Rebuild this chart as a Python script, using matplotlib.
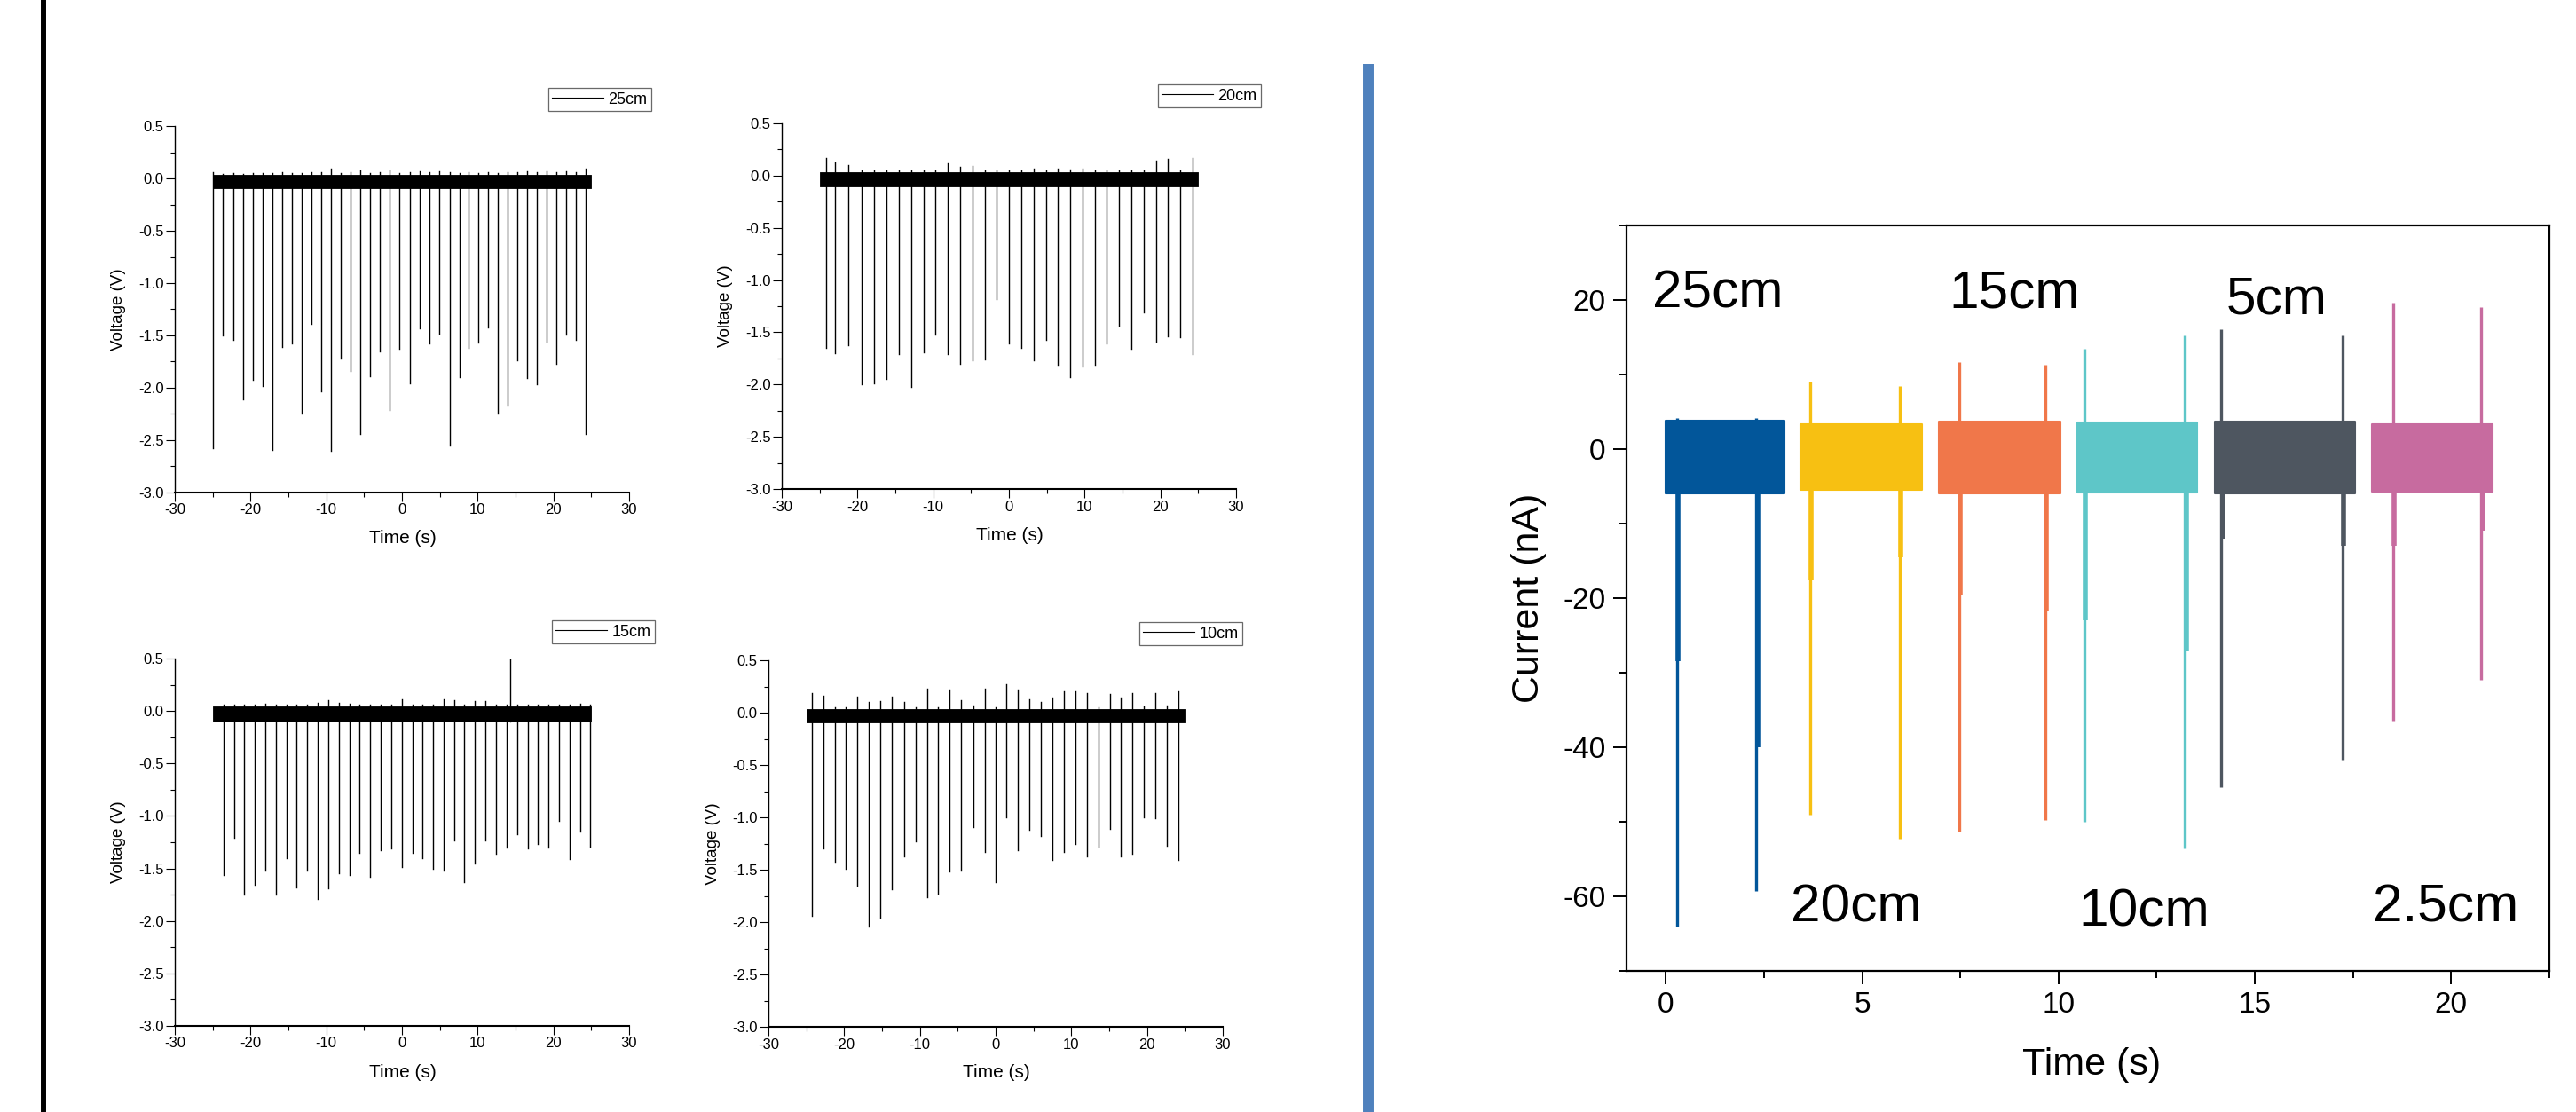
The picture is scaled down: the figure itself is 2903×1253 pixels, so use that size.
import numpy as np
import matplotlib
matplotlib.use('Agg')
import matplotlib.pyplot as plt
from matplotlib.ticker import MultipleLocator

plt.rcParams['font.family'] = ['Liberation Sans', 'DejaVu Sans']
plt.rcParams['axes.unicode_minus'] = False

# ---------------- data: small voltage panels ----------------
band_range = [-25.0, 25.0]

# 25 cm
p25_label = '25cm'
p25_band = [-0.095, 0.03]
p25_t = [-24.98, -23.64, -22.31, -20.98, -19.64, -18.36, -17.07, -15.78, -14.53, -13.24,
         -11.96, -10.62, -9.33, -8.04, -6.76, -5.47, -4.18, -2.89, -1.60, -0.31,
         1.02, 2.31, 3.60, 4.93, 6.27, 7.56, 8.84, 10.13, 11.42, 12.71,
         14.00, 15.24, 16.53, 17.82, 19.16, 20.44, 21.69, 22.98, 24.31]
p25_low = [-2.58, -1.50, -1.54, -2.11, -1.92, -1.98, -2.59, -1.61, -1.58, -2.25,
           -1.39, -2.03, -2.60, -1.72, -1.84, -2.44, -1.89, -1.65, -2.21, -1.63,
           -1.96, -1.43, -1.58, -1.48, -2.55, -1.90, -1.62, -1.57, -1.42, -2.25,
           -2.17, -1.74, -1.91, -1.97, -1.56, -1.77, -1.49, -1.54, -2.44]
p25_up = [0.06, 0.04, 0.05, 0.04, 0.05, 0.05, 0.05, 0.06, 0.05, 0.05,
          0.06, 0.06, 0.09, 0.05, 0.06, 0.08, 0.05, 0.06, 0.08, 0.05,
          0.06, 0.07, 0.06, 0.07, 0.06, 0.05, 0.06, 0.05, 0.06, 0.05,
          0.06, 0.06, 0.07, 0.06, 0.07, 0.06, 0.07, 0.06, 0.09]

# 20 cm
p20_label = '20cm'
p20_band = [-0.10, 0.037]
p20_t = [-24.09, -22.94, -21.16, -19.49, -17.81, -16.14, -14.52, -12.90, -11.28, -9.71,
         -8.09, -6.47, -4.84, -3.22, -1.60, 0.02, 1.64, 3.26, 4.88, 6.45,
         8.07, 9.70, 11.32, 12.94, 14.56, 16.19, 17.81, 19.43, 21.00, 22.60, 24.24]
p20_low = [-1.65, -1.70, -1.62, -2.00, -1.99, -1.95, -1.71, -2.02, -1.69, -1.52,
           -1.71, -1.80, -1.77, -1.76, -1.18, -1.61, -1.65, -1.77, -1.57, -1.81,
           -1.93, -1.83, -1.81, -1.61, -1.44, -1.66, -1.31, -1.59, -1.54, -1.55, -1.71]
p20_up = [0.17, 0.13, 0.10, 0.05, 0.05, 0.05, 0.05, 0.05, 0.05, 0.05,
          0.12, 0.08, 0.09, 0.05, 0.05, 0.05, 0.05, 0.07, 0.05, 0.07,
          0.06, 0.07, 0.05, 0.05, 0.05, 0.05, 0.05, 0.14, 0.16, 0.05, 0.17]

# 15 cm
p15_label = '15cm'
p15_band = [-0.10, 0.047]
p15_t = [-23.59, -22.20, -20.81, -19.46, -18.07, -16.68, -15.29, -13.90, -12.51, -11.12,
         -9.73, -8.34, -6.95, -5.61, -4.22, -2.83, -1.44, -0.04, 1.35, 2.74,
         4.08, 5.47, 6.86, 8.25, 9.60, 10.99, 12.38, 13.77, 15.20, 16.59,
         17.98, 19.37, 20.72, 22.11, 23.50, 24.89]
p15_low = [-1.56, -1.21, -1.75, -1.66, -1.52, -1.75, -1.40, -1.68, -1.52, -1.79,
           -1.69, -1.55, -1.56, -1.35, -1.58, -1.33, -1.31, -1.49, -1.35, -1.40,
           -1.50, -1.52, -1.23, -1.63, -1.45, -1.23, -1.36, -1.30, -1.17, -1.31,
           -1.27, -1.30, -1.05, -1.41, -1.15, -1.29]
p15_up = [0.06, 0.06, 0.06, 0.06, 0.07, 0.06, 0.06, 0.06, 0.06, 0.08,
          0.10, 0.08, 0.07, 0.06, 0.06, 0.06, 0.06, 0.11, 0.06, 0.06,
          0.06, 0.11, 0.10, 0.06, 0.09, 0.09, 0.06, 0.06, 0.06, 0.06,
          0.06, 0.06, 0.06, 0.06, 0.07, 0.06]
p15_extra_t = [14.35]
p15_extra_up = [0.50]

# 10 cm
p10_label = '10cm'
p10_band = [-0.097, 0.036]
p10_t = [-24.25, -22.73, -21.21, -19.75, -18.23, -16.72, -15.20, -13.68, -12.11, -10.60,
         -9.08, -7.56, -6.05, -4.53, -2.96, -1.44, 0.00, 1.46, 2.98, 4.50,
         6.01, 7.53, 9.05, 10.51, 12.03, 13.55, 15.06, 16.58, 18.10, 19.62,
         21.08, 22.60, 24.12]
p10_low = [-1.94, -1.30, -1.42, -1.49, -1.65, -2.04, -1.96, -1.69, -1.37, -1.23,
           -1.76, -1.73, -1.52, -1.51, -1.09, -1.33, -1.62, -1.00, -1.31, -1.12,
           -1.18, -1.41, -1.33, -1.25, -1.37, -1.28, -1.11, -1.37, -1.35, -1.00,
           -1.01, -1.27, -1.41]
p10_up = [0.19, 0.16, 0.05, 0.05, 0.15, 0.10, 0.11, 0.15, 0.10, 0.05,
          0.23, 0.05, 0.22, 0.12, 0.07, 0.23, 0.05, 0.27, 0.22, 0.13,
          0.10, 0.14, 0.20, 0.20, 0.19, 0.05, 0.18, 0.14, 0.19, 0.06,
          0.19, 0.07, 0.20]

# ---------------- data: current panel ----------------
seg_labels = ['25cm', '20cm', '15cm', '10cm', '5cm', '2.5cm']
seg_colors = ['#02569a', '#f7c012', '#f0774a', '#5ec6c8', '#4e5660', '#c76b9f']
seg_start = [0.0, 3.44, 6.96, 10.47, 13.97, 17.98]
seg_end = [3.02, 6.52, 10.04, 13.54, 17.55, 21.05]
seg_top = [3.8, 3.3, 3.7, 3.6, 3.7, 3.3]
seg_bot = [-6.0, -5.5, -6.0, -5.8, -6.0, -5.7]
sp1_t = [0.28, 3.68, 7.47, 10.65, 14.15, 18.52]
sp1_up = [4.2, 9.1, 11.7, 13.5, 16.1, 19.7]
sp1_low = [-64.0, -49.0, -51.3, -50.0, -45.4, -36.4]
sp1_mid = [-28.5, -17.5, -19.5, -23.0, -12.0, -13.0]
sp2_t = [2.31, 5.95, 9.66, 13.22, 17.23, 20.77]
sp2_up = [4.2, 8.4, 11.3, 15.2, 15.2, 19.1]
sp2_low = [-59.3, -52.3, -49.8, -53.6, -41.7, -31.0]
sp2_mid = [-40.0, -14.5, -21.8, -27.0, -13.0, -11.0]
lab_x = [-0.34, 3.18, 7.2, 10.5, 14.27, 18.0]
lab_y = [19.0, -63.4, 19.0, -64.0, 18.2, -63.4]

# ---------------- figure ----------------
W, H = 2903, 1253
fig = plt.figure(figsize=(W / 100, H / 100), dpi=100)


def fx(px):
    return px / W


def fy(py):
    return 1 - py / H


def small_panel(x0, x1, ytop, ybot, label, band, t, low, up, leg, extra_t=None, extra_up=None):
    ax = fig.add_axes([fx(x0), fy(ybot), fx(x1) - fx(x0), fy(ytop) - fy(ybot)])
    ax.fill_between(band_range, [band[0]] * 2, [band[1]] * 2, color='k', lw=0.6, edgecolor='k')
    xs, ys = [], []
    for ti, lo, u in zip(t, low, up):
        xs += [ti, ti, np.nan]
        ys += [u, lo, np.nan]
    if extra_t is not None:
        for ti, u in zip(extra_t, extra_up):
            xs += [ti, ti, np.nan]
            ys += [u, band[0], np.nan]
    ax.plot(xs, ys, color='k', lw=1.0, label=label)
    ax.set_xlim(-30, 30)
    ax.set_ylim(-3.0, 0.5)
    for s in ['top', 'right']:
        ax.spines[s].set_visible(False)
    ax.spines['left'].set_linewidth(1.0)
    ax.spines['bottom'].set_linewidth(1.5)
    ax.xaxis.set_major_locator(MultipleLocator(10))
    ax.xaxis.set_minor_locator(MultipleLocator(5))
    ax.yaxis.set_major_locator(MultipleLocator(0.5))
    ax.yaxis.set_minor_locator(MultipleLocator(0.25))
    ax.yaxis.set_major_formatter(matplotlib.ticker.FormatStrFormatter('%.1f'))
    ax.tick_params(which='major', direction='out', length=7, width=0.8, labelsize=12, pad=2)
    ax.tick_params(which='minor', direction='out', length=3.5, width=0.8)
    ax.patch.set_alpha(0)
    fig.text(fx(x0 - 63), fy((ytop + ybot) / 2), 'Voltage (V)', rotation=90,
             ha='center', va='center', fontsize=13.5)
    fig.text(fx((x0 + x1) / 2 + 1), fy(ybot + 52), 'Time (s)', ha='center', va='center',
             fontsize=15)
    lx, ly = leg
    lg = ax.legend(loc='upper right', bbox_to_anchor=(fx(lx), fy(ly)),
                   bbox_transform=fig.transFigure, borderaxespad=0, fontsize=13,
                   frameon=True, fancybox=False, handlelength=3.2, handletextpad=0.3,
                   borderpad=0.25, edgecolor='#444444')
    lg.get_frame().set_linewidth(0.9)
    for ln in lg.get_lines():
        ln.set_linewidth(0.8)
    return ax


small_panel(197, 709, 142, 555, p25_label, p25_band, p25_t, p25_low, p25_up, (734, 99))
small_panel(881, 1393, 139, 551, p20_label, p20_band, p20_t, p20_low, p20_up, (1421, 95))
small_panel(197, 709, 742, 1156, p15_label, p15_band, p15_t, p15_low, p15_up, (738, 699),
            p15_extra_t, p15_extra_up)
small_panel(866, 1378, 744, 1157, p10_label, p10_band, p10_t, p10_low, p10_up, (1400, 701))

# decorative lines
fig.add_artist(plt.Line2D([fx(49), fx(49)], [0, 1], color='black', lw=4.3,
                          transform=fig.transFigure))
fig.add_artist(plt.Line2D([fx(1542), fx(1542)], [0, fy(72)], color='#4f81bd', lw=8.6,
                          transform=fig.transFigure, solid_capstyle='butt'))

# ---------------- current panel ----------------
rx0, rx1, rtop, rbot = 1833, 2873, 254, 1094
ax = fig.add_axes([fx(rx0), fy(rbot), fx(rx1) - fx(rx0), fy(rtop) - fy(rbot)])
for i in range(len(seg_labels)):
    c = seg_colors[i]
    ax.fill_between([seg_start[i], seg_end[i]], [seg_bot[i]] * 2, [seg_top[i]] * 2,
                    color=c, lw=1.5, edgecolor=c)
    ax.plot([sp1_t[i], sp1_t[i]], [sp1_up[i], sp1_low[i]], color=c, lw=2.4,
            solid_capstyle='butt')
    ax.plot([sp1_t[i] + 0.03, sp1_t[i] + 0.03], [seg_bot[i], sp1_mid[i]], color=c, lw=4.0,
            solid_capstyle='butt')
    ax.plot([sp2_t[i], sp2_t[i]], [sp2_up[i], sp2_low[i]], color=c, lw=2.4,
            solid_capstyle='butt')
    ax.plot([sp2_t[i] + 0.03, sp2_t[i] + 0.03], [seg_bot[i], sp2_mid[i]], color=c, lw=4.0,
            solid_capstyle='butt')
    ax.text(lab_x[i], lab_y[i], seg_labels[i], fontsize=43.5, ha='left', va='baseline')

ax.set_xlim(-1, 22.5)
ax.set_ylim(-70, 30)
ax.xaxis.set_major_locator(MultipleLocator(5))
ax.xaxis.set_minor_locator(MultipleLocator(2.5))
ax.yaxis.set_major_locator(MultipleLocator(20))
ax.yaxis.set_minor_locator(MultipleLocator(10))
ax.yaxis.set_major_formatter(matplotlib.ticker.FormatStrFormatter('%d'))
ax.tick_params(which='major', direction='out', length=10.8, width=1.4, labelsize=24, pad=6)
ax.tick_params(which='minor', direction='out', length=5.8, width=1.4)
for s in ax.spines.values():
    s.set_linewidth(1.6)
fig.text(fx(1723), fy((rtop + rbot) / 2), 'Current (nA)', rotation=90, ha='center',
         va='center', fontsize=31)
fig.text(fx(2357), fy(1200), 'Time (s)', ha='center', va='center', fontsize=31)

fig.savefig('out.png', dpi=100, facecolor='white')
